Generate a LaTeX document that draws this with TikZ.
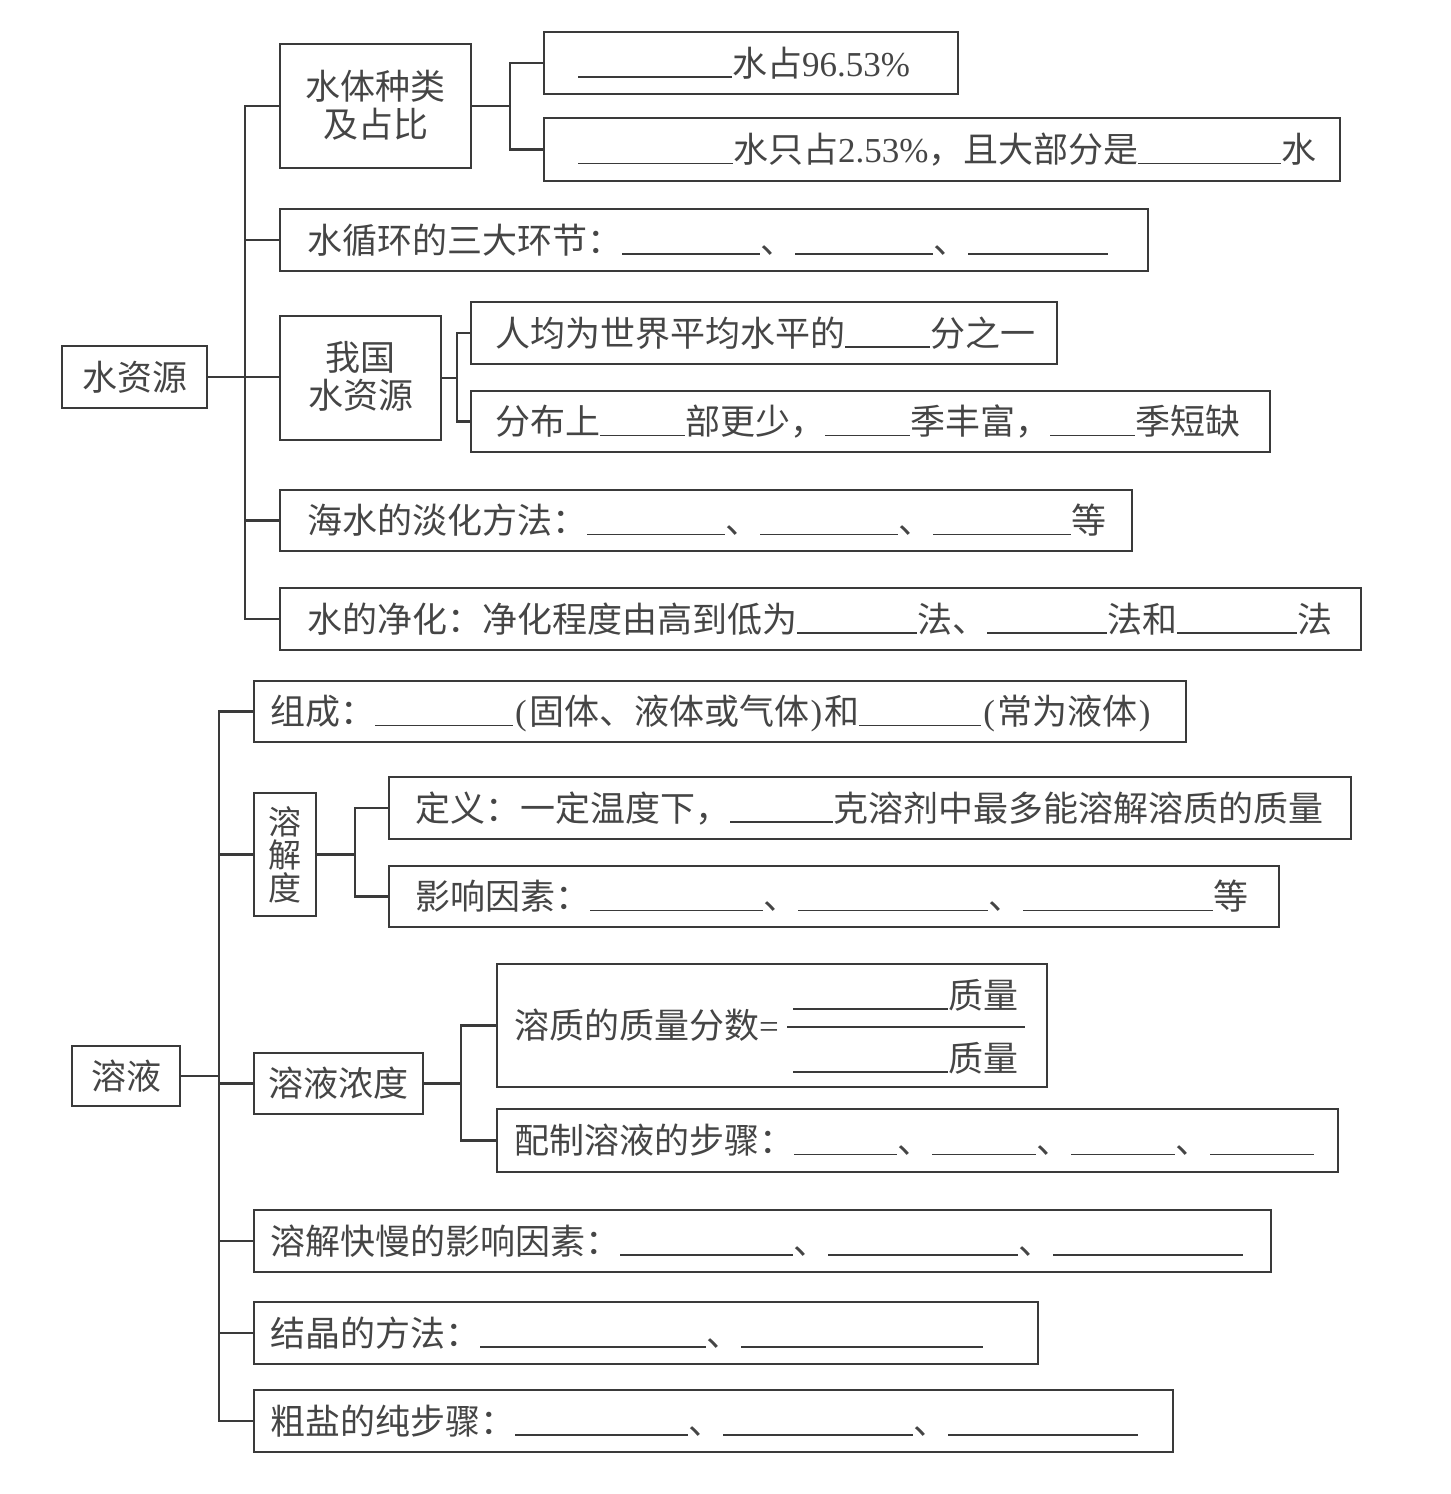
\documentclass[tikz,border=0pt]{standalone}
\usepackage{fontspec}
\setmainfont{Noto Sans CJK SC}
\newfontfamily\latf{Liberation Serif}
\definecolor{lc}{HTML}{3A3A3A}
\definecolor{tc}{HTML}{454545}
\newcommand\blankln[1]{\textcolor{lc}{\rule[-1.5pt]{#1pt}{1.5pt}}}
\newcommand\Lt[1]{{\latf #1}}
\newcommand\lpar{\kern2pt{\latf (}\kern3pt}
\newcommand\rpar{\kern1pt{\latf )}\kern2pt}
\newcommand\mybox[7]{%
  \node[bx, anchor=north west, minimum width={#4-#2}, minimum height={#5-#3}] (#1) at (#2,-#3) {};
  \node[tx, anchor=base west] (#1t) at (#6,{-(#3+#5)/2-13}) {#7};}
\begin{document}
\begin{tikzpicture}[x=1pt,y=1pt,
  bx/.style={draw=lc, line width=2.4pt, inner sep=0pt, outer sep=0pt, rectangle},
  tx/.style={inner sep=0pt, outer sep=0pt, text=tc, font=\fontsize{35}{40}\selectfont},
  txs/.style={tx, font=\fontsize{33}{36}\selectfont},
  ln/.style={draw=lc, line width=2.4pt, line cap=rect}]
\useasboundingbox (0,0) rectangle (1451,-1494);

% ---------- top part ----------
\node[bx, anchor=north west, minimum width=145, minimum height=62] (sy) at (62,-346) {};
\node[tx, anchor=base] (syt) at (134.5,-390) {水资源};

\node[bx, anchor=north west, minimum width=191, minimum height=124] (tz) at (280,-44) {};
\node[tx, anchor=base] (tz1) at (375.5,-99) {水体种类};
\node[tx, anchor=base] (tz2) at (375.5,-137) {及占比};

\mybox{a1}{544}{32}{958}{94}{578}{\blankln{154}水占\Lt{96.53\%}}
\mybox{a2}{544}{118}{1340}{181}{578}{\blankln{155}水只占\Lt{2.53\%}，且大部分是\blankln{143}水}
\mybox{xh}{280}{209}{1148}{271}{307}{水循环的三大环节：\blankln{138}、\blankln{138}、\blankln{140}}

\node[bx, anchor=north west, minimum width=161, minimum height=124] (wg) at (280,-316) {};
\node[tx, anchor=base] (wg1) at (360.5,-370) {我国};
\node[tx, anchor=base] (wg2) at (360.5,-408) {水资源};

\mybox{b1}{471}{302}{1057}{364}{495}{人均为世界平均水平的\blankln{85}分之一}
\mybox{b2}{471}{391}{1270}{452}{495}{分布上\blankln{85}部更少，\blankln{85}季丰富，\blankln{85}季短缺}
\mybox{hs}{280}{490}{1132}{551}{307}{海水的淡化方法：\blankln{138}、\blankln{138}、\blankln{138}等}
\mybox{jh}{280}{588}{1361}{650}{307}{水的净化：净化程度由高到低为\blankln{120}法、\blankln{120}法和\blankln{120}法}

\coordinate (s1) at (245,0);
\coordinate (s2) at (510,0);
\coordinate (s3) at (457,0);
\draw[ln] (sy.east) -- (sy.east -| wg.west);
\draw[ln] (tz.west -| s1) -- (jh.west -| s1);
\foreach \n in {tz,xh,hs,jh} \draw[ln] (\n.west) -- (\n.west -| s1);
\draw[ln] (tz.east) -- (tz.east -| s2);
\draw[ln] (a1.west -| s2) -- (a2.west -| s2);
\draw[ln] (a1.west) -- (a1.west -| s2);
\draw[ln] (a2.west) -- (a2.west -| s2);
\draw[ln] (wg.east) -- (wg.east -| s3);
\draw[ln] (b1.west -| s3) -- (b2.west -| s3);
\draw[ln] (b1.west) -- (b1.west -| s3);
\draw[ln] (b2.west) -- (b2.west -| s3);

% ---------- bottom part ----------
\node[bx, anchor=north west, minimum width=108, minimum height=60] (ry) at (72,-1046) {};
\node[tx, anchor=base] (ryt) at (126,-1089) {溶液};

\mybox{zc}{254}{681}{1186}{742}{270}{组成：\blankln{138}\lpar 固体、液体或气体\rpar 和\blankln{122}\lpar 常为液体\rpar}

\node[bx, anchor=north west, minimum width=62, minimum height=123] (rjd) at (254,-793) {};
\node[txs, anchor=base] (rjd1) at (285,-834) {溶};
\node[txs, anchor=base] (rjd2) at (285,-867) {解};
\node[txs, anchor=base] (rjd3) at (285,-900) {度};

\mybox{c1}{389}{777}{1351}{839}{415}{定义：一定温度下，\blankln{103}克溶剂中最多能溶解溶质的质量}
\mybox{c2}{389}{866}{1279}{927}{415}{影响因素：\blankln{173}、\blankln{190}、\blankln{190}等}

\node[bx, anchor=north west, minimum width=169, minimum height=61] (nd) at (254,-1053) {};
\node[tx, anchor=base] (ndt) at (338.5,-1096) {溶液浓度};

\mybox{d1}{497}{964}{1047}{1087}{514}{溶质的质量分数\Lt{=}}
\node[tx, anchor=base west] (num) at (793,-1008) {\blankln{155}质量};
\node[tx, anchor=base west] (den) at (793,-1071) {\blankln{155}质量};
\draw[ln, line width=1.8pt, line cap=butt] (787,-1027) -- (1025,-1027);

\mybox{d2}{497}{1109}{1338}{1172}{514}{配制溶液的步骤：\blankln{103}、\blankln{104}、\blankln{104}、\blankln{104}}
\mybox{e}{254}{1210}{1271}{1272}{270}{溶解快慢的影响因素：\blankln{173}、\blankln{190}、\blankln{190}}
\mybox{f}{254}{1302}{1038}{1364}{270}{结晶的方法：\blankln{226}、\blankln{242}}
\mybox{g}{254}{1390}{1173}{1452}{270}{粗盐的纯步骤：\blankln{173}、\blankln{190}、\blankln{190}}

\coordinate (s4) at (219,0);
\coordinate (s5) at (355,0);
\coordinate (s6) at (461,0);
\draw[ln] (ry.east) -- (ry.east -| s4);
\draw[ln] (zc.west -| s4) -- (g.west -| s4);
\foreach \n in {zc,rjd,nd,e,f,g} \draw[ln] (\n.west) -- (\n.west -| s4);
\draw[ln] (rjd.east) -- (rjd.east -| s5);
\draw[ln] (c1.west -| s5) -- (c2.west -| s5);
\draw[ln] (c1.west) -- (c1.west -| s5);
\draw[ln] (c2.west) -- (c2.west -| s5);
\draw[ln] (nd.east) -- (nd.east -| s6);
\draw[ln] (d1.west -| s6) -- (d2.west -| s6);
\draw[ln] (d1.west) -- (d1.west -| s6);
\draw[ln] (d2.west) -- (d2.west -| s6);
\end{tikzpicture}
\end{document}
